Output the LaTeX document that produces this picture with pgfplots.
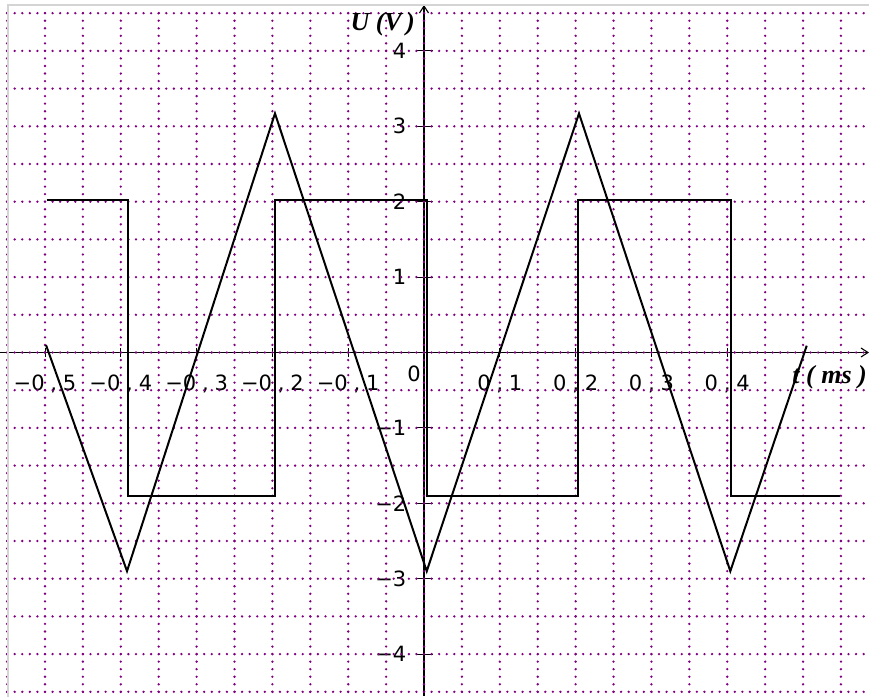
\documentclass[border=0pt]{standalone}
\usepackage{pgfplots}
\pgfplotsset{compat=1.18}
\usepackage{fontspec}
\setmainfont{DejaVu Sans}
\newfontfamily\labelfont{Liberation Serif}
\usetikzlibrary{arrows.meta}
\definecolor{gridpurple}{RGB}{128,0,128}
\definecolor{framegray}{RGB}{212,212,212}

\begin{document}
\begin{tikzpicture}
\useasboundingbox (0,0) rectangle (869pt,696pt);
\begin{axis}[
  at={(0,0)}, anchor=south west,
  width=869pt, height=696pt, scale only axis,
  xmin=-0.55937, xmax=0.58707,
  ymin=-4.5557, ymax=4.6751,
  axis lines=middle,
  axis line style={black, line width=1.1pt},
  x axis line style={-{Straight Barb[length=7pt,width=9pt]}},
  y axis line style={-{Straight Barb[length=7pt,width=9pt]}, shorten >=5pt},
  tick align=center,
  major tick length=17pt,
  tick style={black, line width=0.8pt},
  xtick style={/pgfplots/major tick length=9pt},
  xtick={-0.5,-0.4,-0.3,-0.2,-0.1,0.1,0.2,0.3,0.4},
  xticklabels={{−0\;,\;5},{−0\;,\;4},{−0\;,\;3},{−0\;,\;2},{−0\;,\;1},
               {0\;,\;1},{0\;,\;2},{0\;,\;3},{0\;,\;4}},
  ytick={-4,-3,-2,-1,1,2,3,4},
  yticklabels={−4,−3,−2,−1,1,2,3,4},
  ticklabel style={font=\fontsize{21}{24}\selectfont, inner sep=0pt},
  xticklabel style={anchor=base, yshift=-29.2pt},
  yticklabel style={anchor=east, xshift=-9pt},
  clip=false,
]
% dotted grid, one line every 0.05 ms and every 0.5 V
\pgfplotsinvokeforeach{-0.55,-0.5,...,0.61}{
  \draw[gridpurple, line width=2.6pt, line cap=round, dash pattern=on 0pt off 7.54pt]
    (axis cs:#1,4.5) -- (axis cs:#1,-4.6);
}
\pgfplotsinvokeforeach{-4.5,-4,...,4.6}{
  \draw[gridpurple, line width=2.6pt, line cap=round, dash pattern=on 0pt off 7.58pt]
    (axis cs:-0.55,#1) -- (axis cs:0.6,#1);
}
% window frame
\draw[framegray, line width=1.6pt] (axis cs:-0.5488,-4.6) -- (axis cs:-0.5488,4.609) -- (axis cs:0.6,4.609);

% square wave
\addplot[black, line width=2pt, line join=miter] coordinates {
  (-0.4978,2.02) (-0.391,2.02) (-0.391,-1.9) (-0.1962,-1.9) (-0.1962,2.02)
  (0.0046,2.02) (0.0046,-1.9) (0.2032,-1.9) (0.2032,2.02) (0.4046,2.02)
  (0.4046,-1.9) (0.5488,-1.9)
};
% triangle wave
\addplot[black, line width=2pt, line join=miter] coordinates {
  (-0.4987,0.1) (-0.3918,-2.9) (-0.1966,3.17) (0.0036,-2.9)
  (0.2045,3.17) (0.4041,-2.9) (0.5049,0.09)
};

% origin label and axis titles
\node[anchor=base east, inner sep=0pt, font=\fontsize{21}{24}\selectfont]
  at (axis cs:0,0) [xshift=-3pt, yshift=-29.2pt] {0};
\node[anchor=east, inner sep=0pt, font=\fontsize{26}{30}\selectfont\labelfont\bfseries\itshape]
  at (axis cs:0,4.357) [xshift=-9pt] {U (V\,)};
\node[anchor=east, inner sep=0pt, font=\fontsize{26}{30}\selectfont\labelfont\bfseries\itshape]
  at (axis cs:0.58707,-0.325) [xshift=-2pt] {t ( ms )};
\end{axis}
\end{tikzpicture}
\end{document}
